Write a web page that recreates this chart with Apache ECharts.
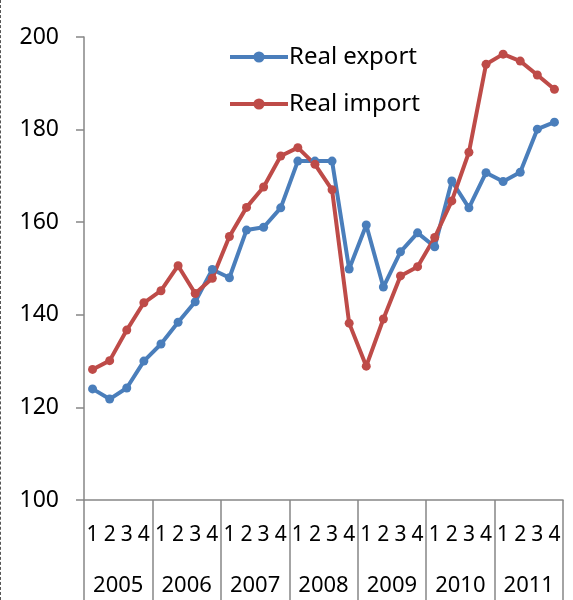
<!DOCTYPE html>
<html>
<head>
<meta charset="utf-8">
<script src="https://cdn.jsdelivr.net/npm/echarts@6/dist/echarts.min.js"></script>
<style>
  html, body { margin: 0; padding: 0; background: #fff; }
  #chart { width: 573px; height: 600px; box-sizing: border-box; border-left: 1px dashed #555; }
</style>
</head>
<body>
<div id="chart"></div>
<script>
// quarters 2005Q1 .. 2011Q4
const years = ['2005', '2006', '2007', '2008', '2009', '2010', '2011'];
const quarterLabels = ['1', '2', '3', '4'];
const realExport = [
  124.0, 121.8, 124.2, 130.0,
  133.7, 138.4, 142.8, 149.8,
  148.0, 158.3, 158.9, 163.1,
  173.2, 173.2, 173.2, 149.9,
  159.4, 146.0, 153.6, 157.7,
  154.7, 168.9, 163.1, 170.7,
  168.8, 170.8, 180.1, 181.6
];
const realImport = [
  128.2, 130.1, 136.7, 142.6,
  145.2, 150.6, 144.6, 147.9,
  156.9, 163.2, 167.6, 174.3,
  176.1, 172.5, 167.0, 138.2,
  128.9, 139.1, 148.4, 150.4,
  156.7, 164.6, 175.1, 194.1,
  196.3, 194.8, 191.8, 188.7
];

const categories = [];
years.forEach(y => quarterLabels.forEach(q => categories.push(y + '-' + q)));

const font = 'Noto Sans, sans-serif';
const axisGray = '#868686';

const chart = echarts.init(document.getElementById('chart'));
chart.setOption({
  animation: false,
  color: ['#4A7EBB', '#BE4B48'],
  grid: { left: 83, right: 10, top: 37, bottom: 100 },
  legend: {
    orient: 'vertical',
    left: 222,
    top: 40,
    itemWidth: 58,
    itemHeight: 14,
    itemGap: 23,
    lineStyle: { width: 4 },
    textStyle: { fontSize: 24, color: '#000', fontFamily: font, padding: [0, 0, 0, -4] },
    data: ['Real export', 'Real import']
  },
  xAxis: [
    {
      type: 'category',
      data: categories,
      boundaryGap: true,
      axisLine: { lineStyle: { color: axisGray, width: 1.5 } },
      axisTick: { show: false },
      axisLabel: {
        interval: 0,
        margin: 25,
        fontSize: 21,
        color: '#000',
        fontFamily: font,
        formatter: v => v.split('-')[1]
      }
    },
    {
      type: 'category',
      data: years,
      position: 'bottom',
      boundaryGap: true,
      axisLine: { show: false },
      axisTick: { show: true, length: 100, lineStyle: { color: axisGray, width: 1.5 } },
      axisLabel: { margin: 75, fontSize: 22, color: '#000', fontFamily: font }
    }
  ],
  yAxis: {
    type: 'value',
    min: 100,
    max: 200,
    interval: 20,
    splitLine: { show: false },
    axisLine: { show: true, lineStyle: { color: axisGray, width: 1.5 } },
    axisTick: { show: true, length: 8, lineStyle: { color: axisGray, width: 1.5 } },
    axisLabel: { margin: 25, fontSize: 23, color: '#000', fontFamily: font }
  },
  series: [
    {
      name: 'Real export',
      type: 'line',
      data: realExport,
      symbol: 'circle',
      symbolSize: 9,
      lineStyle: { width: 4 }
    },
    {
      name: 'Real import',
      type: 'line',
      data: realImport,
      symbol: 'circle',
      symbolSize: 9,
      lineStyle: { width: 4 }
    }
  ]
});
</script>
</body>
</html>
